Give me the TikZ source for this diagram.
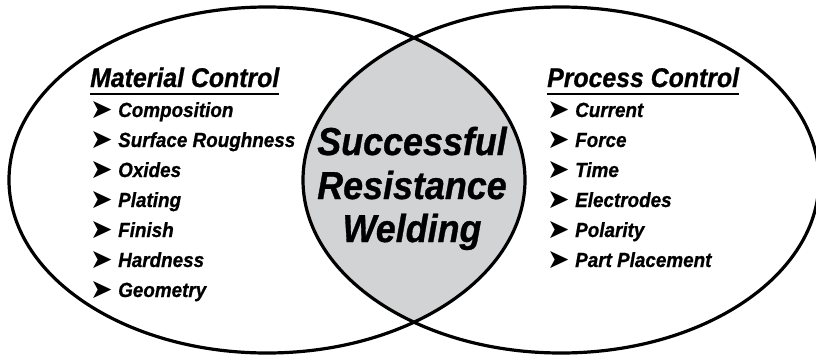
\documentclass[tikz,border=0pt]{standalone}
\usepackage{fontspec}
\newfontfamily\weldfont{Liberation Sans}[FakeStretch=0.92, FakeBold=0.8]
\newfontfamily\tipfont{DejaVu Sans}
\usetikzlibrary{calc}
\definecolor{overlapgray}{RGB}{209,211,212}
\newcommand{\bullettip}{\makebox[28pt][l]{\tipfont\upshape\mdseries\fontsize{27}{27}\selectfont\raisebox{-1.5pt}{➤}}}

\begin{document}
\begin{tikzpicture}[
    x=1pt, y=-1pt,
    ring/.style={line width=3.2pt},
    heading/.style={anchor=base west, inner sep=0pt, font=\weldfont\bfseries\itshape\fontsize{27}{27}\selectfont},
    item/.style={anchor=base west, inner sep=0pt, font=\weldfont\bfseries\itshape\fontsize{20.5}{20.5}\selectfont},
    centre/.style={anchor=base, inner sep=0pt, font=\weldfont\bfseries\itshape\fontsize{39}{39}\selectfont}
]
    \useasboundingbox (0,0) rectangle (816,356);

    % shaded overlap
    \begin{scope}
        \clip (267,180) ellipse [x radius=258, y radius=173];
        \fill[overlapgray] (561,180) ellipse [x radius=258, y radius=173];
    \end{scope}
    \draw[ring] (267,180) ellipse [x radius=258, y radius=173];
    \draw[ring] (561,180) ellipse [x radius=258, y radius=173];

    % left set
    \node[heading] (matHead) at (90,87) {Material Control};
    \draw[line width=2pt] ($(matHead.base west)+(0,7)$) -- ($(matHead.base east)+(0,7)$);
    \foreach \txt [count=\i] in {Composition, Surface Roughness, Oxides, Plating, Finish, Hardness, Geometry}
        \node[item] (mat\i) at (90,87+30*\i) {\bullettip\txt};

    % right set
    \node[heading] (procHead) at (547,87) {Process Control};
    \draw[line width=2pt] ($(procHead.base west)+(0,7)$) -- ($(procHead.base east)+(0,7)$);
    \foreach \txt [count=\i] in {Current, Force, Time, Electrodes, Polarity, Part Placement}
        \node[item] (proc\i) at (547,87+30*\i) {\bullettip\txt};

    % overlap
    \node[centre] (succ) at (412,155) {Successful};
    \node[centre] (resist) at (412,199) {Resistance};
    \node[centre] (weld) at (412,242) {Welding};
\end{tikzpicture}
\end{document}
